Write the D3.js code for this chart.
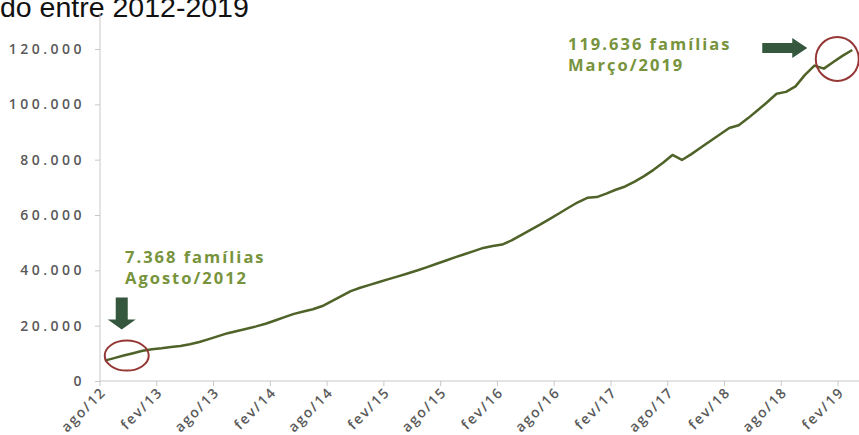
<!DOCTYPE html>
<html>
<head>
<meta charset="utf-8">
<script src="https://cdn.jsdelivr.net/npm/d3@7"></script>
<style>
  html, body { margin: 0; padding: 0; background: #fff; }
  svg { display: block; }
  .tick text { font-family: "Open Sans", sans-serif; fill: #595959; }
</style>
</head>
<body>
<svg id="chart" width="859" height="435"></svg>
<script>
// Families served per month, Aug/2012 to Mar/2019
const startMonth = new Date(2012, 7, 1);
const endMonth = new Date(2019, 3, 1);
const familias = [
  7368, 8280, 9190, 10050, 10950, 11470, 11830, 12300, 12650, 13300,
  14090, 15150, 16200, 17290, 18100, 18900, 19750, 20690, 21880, 23080,
  24270, 25140, 25930, 27090, 28900, 30700, 32500, 33700, 34760, 35770,
  36820, 37830, 38880, 39930, 41090, 42280, 43480, 44670, 45830, 46950,
  48100, 48790, 49300, 50820, 52700, 54620, 56500, 58490, 60550, 62610,
  64600, 66230, 66480, 67730, 69120, 70310, 72090, 74040, 76320, 78900,
  81700, 79900, 82000, 84390, 86770, 89120, 91470, 92450, 95020, 97840,
  100770, 103840, 104500, 106480, 110640, 114000, 112900, 115300, 117600, 119636
];
const xTickLabels = ["ago/12", "fev/13", "ago/13", "fev/14", "ago/14", "fev/15", "ago/15",
                     "fev/16", "ago/16", "fev/17", "ago/17", "fev/18", "ago/18", "fev/19"];
const yTicks = [0, 20000, 40000, 60000, 80000, 100000, 120000];
const tituloTexto = "do entre 2012-2019";
const notaInicio = ["7.368 famílias", "Agosto/2012"];
const notaFim = ["119.636 famílias", "Março/2019"];

const months = d3.timeMonth.range(startMonth, endMonth);
const data = months.map((m, i) => ({ month: m, value: familias[i] }));
const key = d => d3.timeFormat("%Y-%m")(d);

const svg = d3.select("#chart");
const ptBR = d3.formatLocale({ decimal: ",", thousands: ".", grouping: [3], currency: ["R$", ""] });
const fmt = ptBR.format(",");

const x = d3.scaleBand().domain(months.map(key)).range([100, 857]).paddingInner(0).paddingOuter(0);
const y = d3.scaleLinear().domain([0, 120000]).range([381, 49]);

// Title (cut at the top edge)
svg.append("text")
  .attr("x", 0).attr("y", 17)
  .attr("font-family", "Liberation Sans, Arial, sans-serif")
  .attr("font-size", 28.5)
  .attr("fill", "#111")
  .text(tituloTexto);

// Y axis
const yAxis = svg.append("g")
  .attr("transform", "translate(100,0)")
  .call(d3.axisLeft(y).tickValues(yTicks).tickFormat(fmt).tickSize(5).tickSizeOuter(0).tickPadding(10));
yAxis.select(".domain").remove();
yAxis.selectAll(".tick line").attr("stroke", "#c8c8c8");
yAxis.selectAll(".tick text")
  .attr("font-size", 14)
  .attr("font-weight", 600)
  .attr("letter-spacing", "3.5px");
svg.append("line")
  .attr("x1", 100).attr("x2", 100)
  .attr("y1", y(0)).attr("y2", 13)
  .attr("stroke", "#c8c8c8");

// X axis
const tickMonths = months.filter((m, i) => i % 6 === 0);
const xAxisG = svg.append("g").attr("transform", `translate(0,${y(0)})`);
xAxisG.append("line")
  .attr("x1", 100).attr("x2", 859)
  .attr("stroke", "#c8c8c8");
const xt = xAxisG.selectAll("g.tick").data(tickMonths).join("g")
  .attr("class", "tick")
  .attr("transform", d => `translate(${x(key(d))},0)`);
xt.append("line").attr("y2", 5).attr("stroke", "#c8c8c8");
xt.append("text")
  .attr("transform", "translate(7,12) rotate(-45)")
  .attr("text-anchor", "end")
  .attr("font-size", 14)
  .attr("font-weight", 600)
  .attr("letter-spacing", "1.8px")
  .text((d, i) => xTickLabels[i]);

// Series line
const line = d3.line()
  .x(d => x(key(d.month)) + x.bandwidth() / 2)
  .y(d => y(d.value));
svg.append("path")
  .datum(data)
  .attr("fill", "none")
  .attr("stroke", "#4F6228")
  .attr("stroke-width", 2.5)
  .attr("stroke-linejoin", "round")
  .attr("d", line);

// Highlight circles on first and last points
const first = data[0], last = data[data.length - 1];
const cx = d => x(key(d.month)) + x.bandwidth() / 2;
svg.append("ellipse")
  .attr("cx", cx(first) + 22).attr("cy", y(first.value) - 5)
  .attr("rx", 22).attr("ry", 15)
  .attr("fill", "none").attr("stroke", "#953735").attr("stroke-width", 2);
svg.append("ellipse")
  .attr("cx", cx(last) - 15).attr("cy", y(last.value) + 9)
  .attr("rx", 21.5).attr("ry", 22)
  .attr("fill", "none").attr("stroke", "#953735").attr("stroke-width", 2);

// Arrows
const arrowColor = "#35573D";
const ax = cx(first) + 17, ay = y(first.value) - 31;
svg.append("path")
  .attr("d", `M${ax - 6},${ay - 32} L${ax + 6},${ay - 32} L${ax + 6},${ay - 10} L${ax + 14},${ay - 10} L${ax},${ay} L${ax - 14},${ay - 10} L${ax - 6},${ay - 10} Z`)
  .attr("fill", arrowColor);
const bx = cx(last) - 45, by = y(last.value) - 2;
svg.append("path")
  .attr("d", `M${bx - 45},${by - 5} L${bx - 15},${by - 5} L${bx - 15},${by - 10} L${bx},${by} L${bx - 15},${by + 10} L${bx - 15},${by + 5} L${bx - 45},${by + 5} Z`)
  .attr("fill", arrowColor);

// Annotations
function nota(lines, x0, y0) {
  const t = svg.append("text")
    .attr("font-family", "Open Sans, sans-serif")
    .attr("font-weight", 700)
    .attr("font-size", 16.5)
    .attr("letter-spacing", "2px")
    .attr("fill", "#77933C");
  lines.forEach((s, i) => t.append("tspan").attr("x", x0).attr("y", y0 + i * 21).text(s));
}
nota(notaInicio, 125, 263);
nota(notaFim, 568, 50);
</script>
</body>
</html>
